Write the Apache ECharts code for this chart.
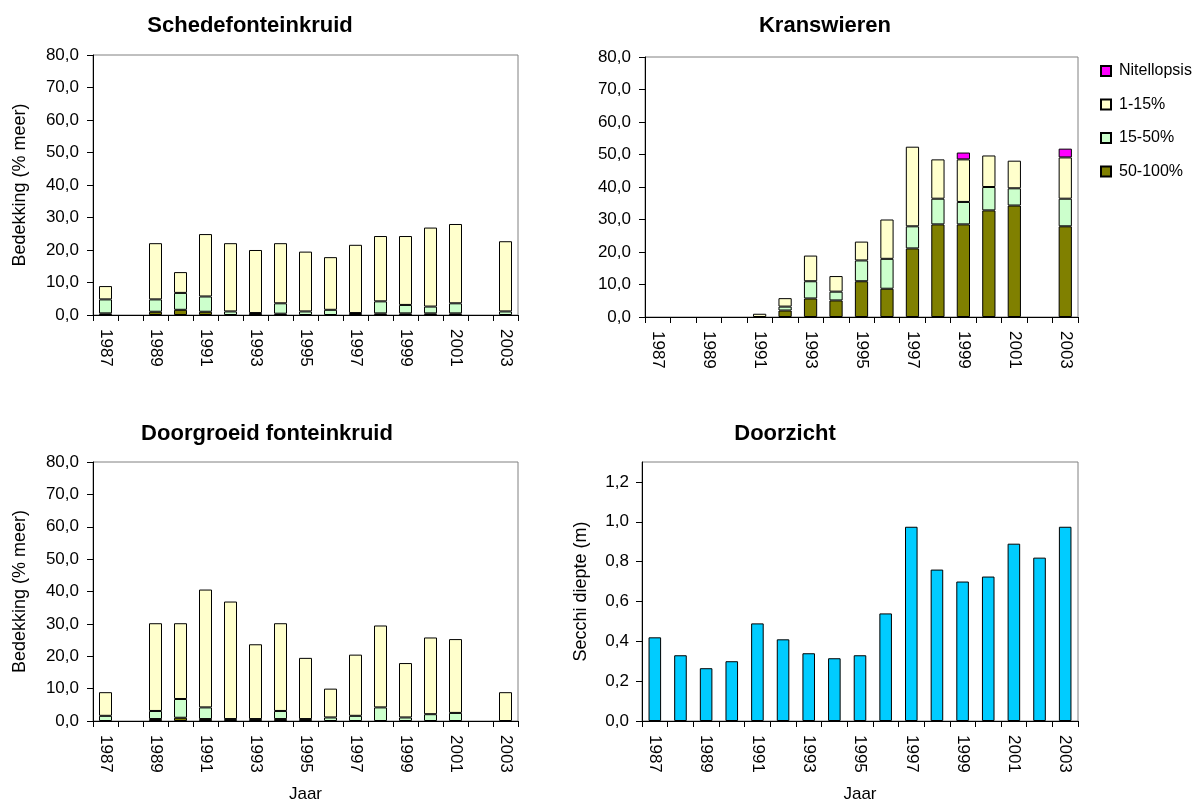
<!DOCTYPE html>
<html>
<head>
<meta charset="utf-8">
<script src="https://cdn.jsdelivr.net/npm/echarts@6/dist/echarts.min.js"></script>
<style>
  html, body { margin: 0; padding: 0; background: #fff; }
  #chart { width: 1200px; height: 804px; }
</style>
</head>
<body>
<div id="chart"></div>
<script>
// Jaren (categorie-as, gedeeld door alle vier de panelen)
const years = ['1987','1988','1989','1990','1991','1992','1993','1994','1995','1996','1997','1998','1999','2000','2001','2002','2003'];

// Schedefonteinkruid, bedekking per klasse (% meer)
const schede50_100 = [0.5, null, 1.0, 1.6, 1.0, null, 0.2, 0.4, null, null, 0.3, 0.5, 0.5, 0.5, 0.5, null, null];
const schede15_50  = [4.3, null, 3.8, 5.2, 4.7, 1.1, 0.4, 3.2, 1.1, 1.6, 0.3, 3.7, 2.6, 2.1, 3.1, null, 1.1];
const schede1_15   = [4.1, null, 17.3, 6.4, 19.2, 21.0, 19.4, 18.5, 18.4, 16.2, 21.0, 20.1, 21.2, 24.3, 24.4, null, 21.6];

// Kranswieren, bedekking per klasse (% meer)
const krans50_100  = [null, null, null, null, null, 2.0, 5.7, 5.1, 11.0, 8.7, 21.1, 28.5, 28.5, 32.8, 34.3, null, 27.9];
const krans15_50   = [null, null, null, null, null, 1.2, 5.3, 2.7, 6.4, 9.2, 6.8, 7.9, 6.9, 7.2, 5.3, null, 8.5];
const krans1_15    = [null, null, null, null, 1.0, 2.6, 7.9, 4.8, 5.8, 12.1, 24.5, 12.1, 13.1, 9.7, 8.5, null, 12.7];
const nitellopsis  = [null, null, null, null, null, null, null, null, null, null, null, null, 2.1, null, null, null, 2.7];

// Doorgroeid fonteinkruid, bedekking per klasse (% meer)
const doorg50_100  = [null, null, 0.6, 1.0, 0.6, null, null, 0.6, null, null, null, null, null, null, null, null, null];
const doorg15_50   = [1.6, null, 2.5, 5.8, 3.6, 0.6, 0.6, 2.5, 0.6, 1.1, 1.6, 4.2, 1.1, 2.1, 2.5, null, null];
const doorg1_15    = [7.3, null, 27.1, 23.4, 36.4, 36.3, 23.1, 27.1, 18.9, 8.9, 18.9, 25.3, 16.8, 23.7, 22.8, null, 8.9];

// Doorzicht: Secchi-diepte (m)
const secchi = [0.42, 0.33, 0.265, 0.30, 0.49, 0.41, 0.34, 0.315, 0.33, 0.54, 0.975, 0.76, 0.70, 0.725, 0.89, 0.82, 0.975];

// As-waarden
const secchiTicks = [0, 0.2, 0.4, 0.6, 0.8, 1.0, 1.2];

const legendOrder = ['Nitellopsis', '1-15%', '15-50%', '50-100%'];

const COLORS = {
  '50-100%': '#808000',
  '15-50%': '#CCFFCC',
  '1-15%': '#FFFFCC',
  'Nitellopsis': '#FF00FF',
  secchi: '#00CCFF'
};

const FONT = 'Liberation Sans, Arial, sans-serif';
const TICK_SIZE = 17;
const NAME_SIZE = 18;
const comma = d => v => v.toFixed(d).replace('.', ',');

const grids = [
  { left: 93,  top: 55,  width: 425, height: 260 },
  { left: 645, top: 57,  width: 433, height: 260 },
  { left: 93,  top: 462, width: 425, height: 260 },
  { left: 642, top: 462, width: 436, height: 260 }
].map(g => Object.assign({ show: true, borderColor: '#808080', borderWidth: 1, backgroundColor: '#fff' }, g));

function xAxisFor(i, withName) {
  return {
    type: 'category', gridIndex: i, data: years, boundaryGap: true,
    axisLine: { lineStyle: { color: '#000', width: 1 } },
    axisTick: { show: true, interval: 0, length: 6, inside: false, lineStyle: { color: '#000' } },
    axisLabel: { interval: 1, rotate: -90, margin: 14, color: '#000', fontSize: TICK_SIZE, fontFamily: FONT },
    splitLine: { show: false },
    name: withName ? 'Jaar' : '',
    nameLocation: 'middle', nameGap: 65,
    nameTextStyle: { color: '#000', fontSize: TICK_SIZE, fontFamily: FONT }
  };
}

function coverYAxis(i, withName) {
  return {
    type: 'value', gridIndex: i, min: 0, max: 80, interval: 10,
    axisLine: { show: true, lineStyle: { color: '#000', width: 1 } },
    axisTick: { show: true, length: 6, lineStyle: { color: '#000' } },
    axisLabel: { margin: 14, color: '#000', fontSize: TICK_SIZE, fontFamily: FONT, formatter: comma(1) },
    splitLine: { show: false },
    name: withName ? 'Bedekking (% meer)' : '',
    nameLocation: 'middle', nameGap: 64,
    nameTextStyle: { color: '#000', fontSize: NAME_SIZE, fontFamily: FONT }
  };
}

function coverSeries(name, data, i, stack) {
  return {
    name, type: 'bar', stack, data,
    xAxisIndex: i, yAxisIndex: i,
    barWidth: '52%',
    itemStyle: { color: COLORS[name], borderColor: '#000', borderWidth: 1 },
    emphasis: { disabled: true }
  };
}

const option = {
  animation: false,
  backgroundColor: '#fff',
  title: [
    { text: 'Schedefonteinkruid', left: 245, top: 10, textAlign: 'center' },
    { text: 'Kranswieren', left: 820, top: 10, textAlign: 'center' },
    { text: 'Doorgroeid fonteinkruid', left: 262, top: 418, textAlign: 'center' },
    { text: 'Doorzicht', left: 780, top: 418, textAlign: 'center' }
  ].map(t => Object.assign(t, { textStyle: { color: '#000', fontSize: 22, fontWeight: 'bold', fontFamily: FONT } })),
  legend: {
    data: legendOrder,
    orient: 'vertical',
    left: 1100, top: 63, padding: 0,
    itemWidth: 10, itemHeight: 10, itemGap: 17.5,
    icon: 'rect',
    textStyle: { color: '#000', fontSize: 16, fontFamily: FONT, padding: [0, 0, 0, 3] },
    selectedMode: false
  },
  grid: grids,
  xAxis: [xAxisFor(0, false), xAxisFor(1, false), xAxisFor(2, true), xAxisFor(3, true)],
  yAxis: [
    coverYAxis(0, true),
    coverYAxis(1, false),
    coverYAxis(2, true),
    {
      type: 'value', gridIndex: 3, min: 0, max: 1.3,
      axisLine: { show: true, lineStyle: { color: '#000', width: 1 } },
      axisTick: { show: true, length: 6, lineStyle: { color: '#000' }, customValues: secchiTicks },
      axisLabel: { margin: 13, color: '#000', fontSize: TICK_SIZE, fontFamily: FONT, formatter: comma(1), customValues: secchiTicks },
      splitLine: { show: false },
      name: 'Secchi diepte (m)',
      nameLocation: 'middle', nameGap: 52,
      nameTextStyle: { color: '#000', fontSize: NAME_SIZE, fontFamily: FONT }
    }
  ],
  series: [
    coverSeries('50-100%', schede50_100, 0, 's1'),
    coverSeries('15-50%', schede15_50, 0, 's1'),
    coverSeries('1-15%', schede1_15, 0, 's1'),

    coverSeries('50-100%', krans50_100, 1, 's2'),
    coverSeries('15-50%', krans15_50, 1, 's2'),
    coverSeries('1-15%', krans1_15, 1, 's2'),
    coverSeries('Nitellopsis', nitellopsis, 1, 's2'),

    coverSeries('50-100%', doorg50_100, 2, 's3'),
    coverSeries('15-50%', doorg15_50, 2, 's3'),
    coverSeries('1-15%', doorg1_15, 2, 's3'),

    {
      name: 'Secchi', type: 'bar', data: secchi,
      xAxisIndex: 3, yAxisIndex: 3,
      barWidth: '49%',
      itemStyle: { color: COLORS.secchi, borderColor: '#000', borderWidth: 1 },
      emphasis: { disabled: true }
    }
  ]
};

const chart = echarts.init(document.getElementById('chart'), null, { renderer: 'canvas' });
chart.setOption(option);
</script>
</body>
</html>
